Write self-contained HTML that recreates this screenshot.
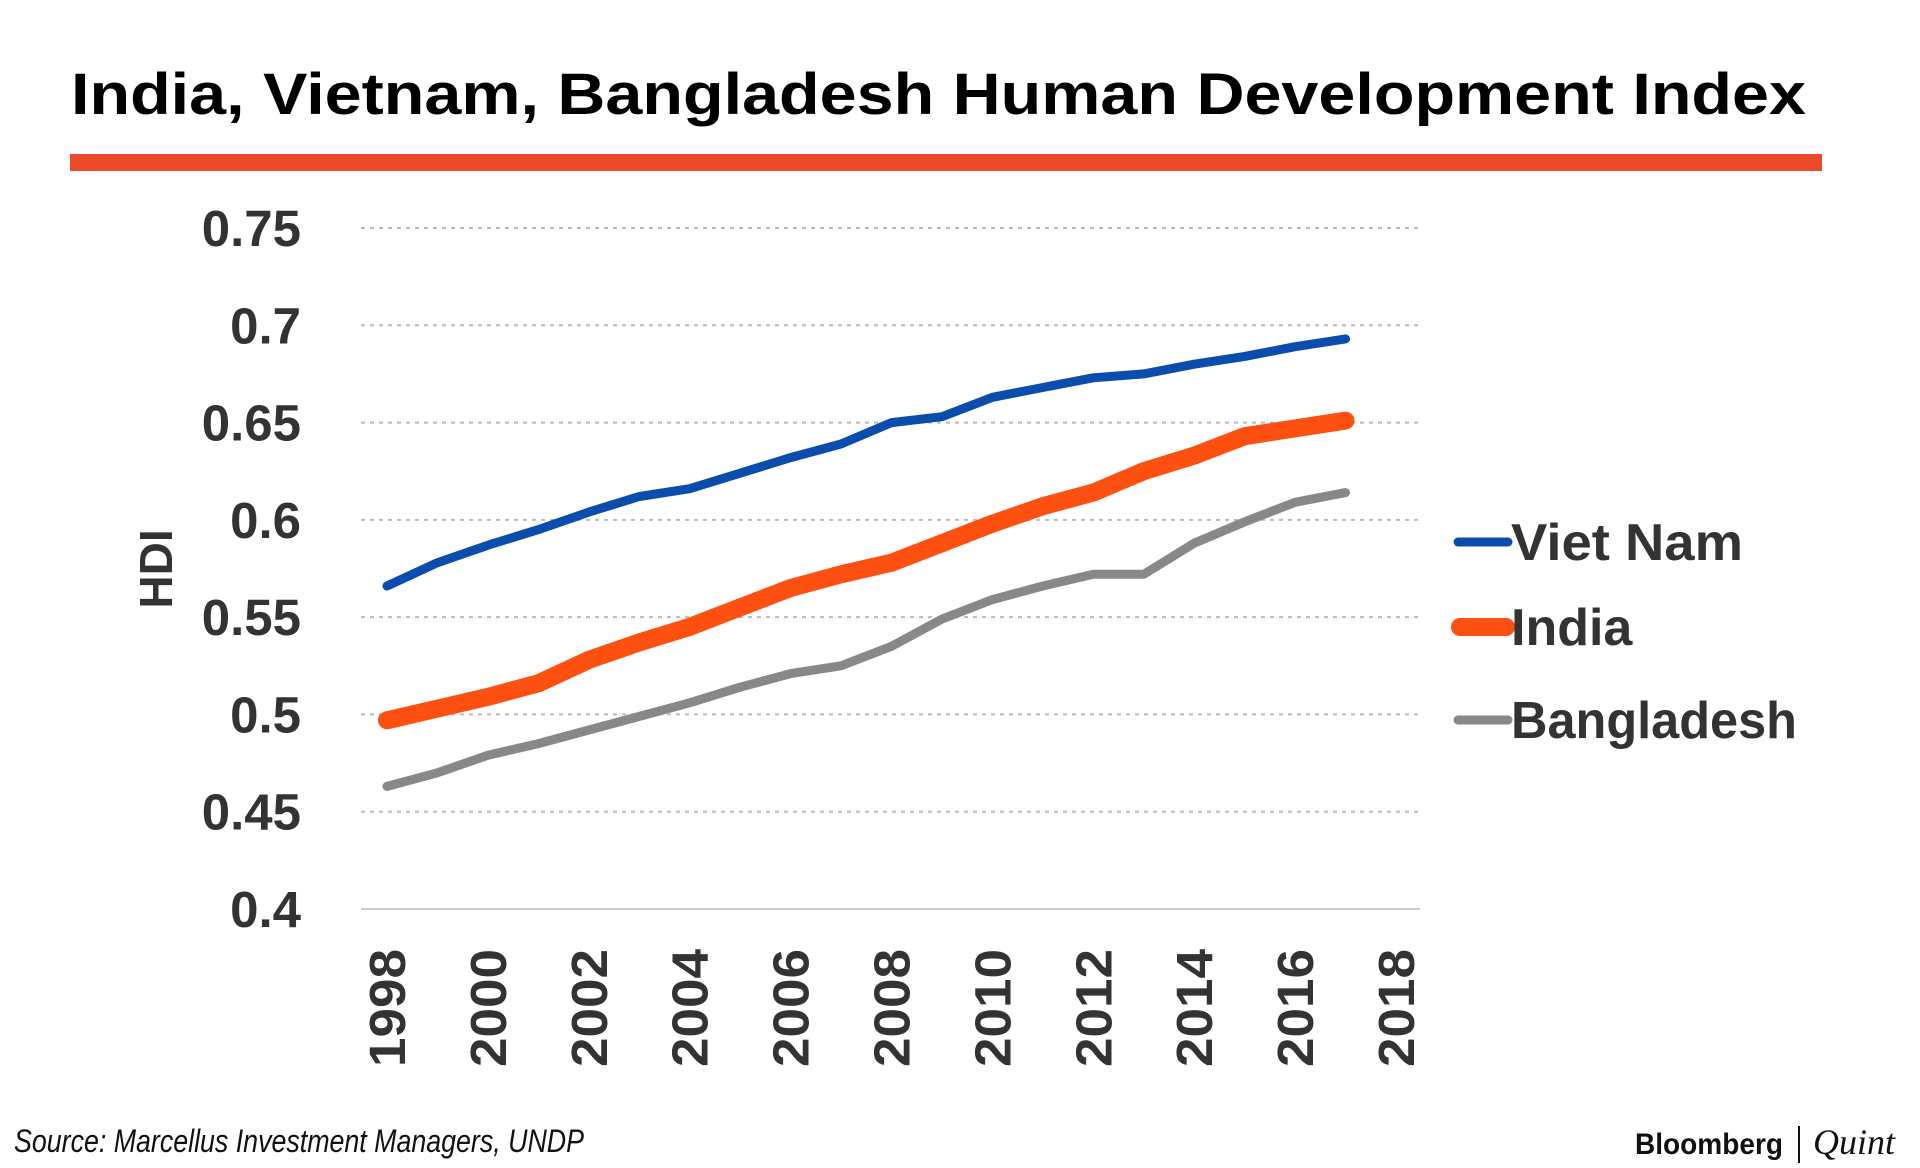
<!DOCTYPE html>
<html><head><meta charset="utf-8"><style>
body{margin:0;background:#fff;}
svg{display:block;}
</style></head><body>
<svg width="1920" height="1168" viewBox="0 0 1920 1168" xmlns="http://www.w3.org/2000/svg">
<text x="71" y="114" font-family="Liberation Sans, sans-serif" font-weight="900" font-size="58" fill="#000" textLength="1735" lengthAdjust="spacingAndGlyphs">India, Vietnam, Bangladesh Human Development Index</text>
<rect x="70" y="154" width="1752" height="17" fill="#ec4b2a"/>
<g id="grid"></g><g id="yt"></g><g id="xt"></g><g id="lines"></g>
<text transform="translate(172,569) rotate(-90)" text-anchor="middle" font-family="Liberation Sans, sans-serif" font-weight="bold" font-size="46" fill="#333">HDI</text>
<g>
<line x1="1458" y1="542" x2="1508" y2="542" stroke="#0b4dad" stroke-width="9" stroke-linecap="round"/>
<text x="1511" y="560" font-family="Liberation Sans, sans-serif" font-weight="bold" font-size="52" fill="#333" textLength="232" lengthAdjust="spacingAndGlyphs">Viet Nam</text>
<line x1="1460" y1="627" x2="1506" y2="627" stroke="#fe5010" stroke-width="18" stroke-linecap="round"/>
<text x="1511" y="645" font-family="Liberation Sans, sans-serif" font-weight="bold" font-size="52" fill="#333">India</text>
<line x1="1458" y1="720" x2="1508" y2="720" stroke="#888" stroke-width="9" stroke-linecap="round"/>
<text x="1511" y="738" font-family="Liberation Sans, sans-serif" font-weight="bold" font-size="52" fill="#333" textLength="286" lengthAdjust="spacingAndGlyphs">Bangladesh</text>
</g>
<text x="14" y="1152" font-family="Liberation Sans Narrow, Liberation Sans, sans-serif" font-style="italic" font-size="32" fill="#111" textLength="570" lengthAdjust="spacingAndGlyphs">Source: Marcellus Investment Managers, UNDP</text>
<text x="1635" y="1154" font-family="Liberation Sans, sans-serif" font-weight="bold" font-size="30" fill="#111" textLength="148" lengthAdjust="spacingAndGlyphs">Bloomberg</text>
<line x1="1799" y1="1126" x2="1799" y2="1163" stroke="#111" stroke-width="2"/>
<text x="1813" y="1154" font-family="Liberation Serif, serif" font-style="italic" font-size="36" fill="#111">Quint</text>
</svg>
<script>
const years=[1998,1999,2000,2001,2002,2003,2004,2005,2006,2007,2008,2009,2010,2011,2012,2013,2014,2015,2016,2017];
const vietNam=[0.566,0.578,0.587,0.595,0.604,0.612,0.616,0.624,0.632,0.639,0.650,0.653,0.663,0.668,0.673,0.675,0.680,0.684,0.689,0.693];
const india=[0.497,0.503,0.509,0.516,0.528,0.537,0.545,0.555,0.565,0.572,0.578,0.588,0.598,0.607,0.614,0.625,0.633,0.643,0.647,0.651];
const bangladesh=[0.463,0.470,0.479,0.485,0.492,0.499,0.506,0.514,0.521,0.525,0.535,0.549,0.559,0.566,0.572,0.572,0.588,0.599,0.609,0.614];
const yTicks=[0.4,0.45,0.5,0.55,0.6,0.65,0.7,0.75];
const yTickLabels=["0.4","0.45","0.5","0.55","0.6","0.65","0.7","0.75"];
const xTicks=[1998,2000,2002,2004,2006,2008,2010,2012,2014,2016,2018];
const NS="http://www.w3.org/2000/svg";
const X=v=>387+(v-1998)*(1396-387)/20;
const Y=v=>909-(v-0.4)*(909-228)/0.35;
function mk(t,a,p){const e=document.createElementNS(NS,t);for(const k in a)e.setAttribute(k,a[k]);p.appendChild(e);return e;}
const grid=document.getElementById('grid'),yt=document.getElementById('yt'),xt=document.getElementById('xt'),lines=document.getElementById('lines');
yTicks.forEach((v,i)=>{
 const l=mk('line',{x1:361,x2:1420,y1:Y(v),y2:Y(v),stroke:i===0?'#ccc':'#bbb','stroke-width':2,'stroke-dasharray':i===0?'':'4,5'},grid);
 
 
 const t=mk('text',{x:301,y:Y(v)+18,'text-anchor':'end','font-family':'Liberation Sans, sans-serif','font-weight':'bold','font-size':51,fill:'#333'},yt);
 t.textContent=yTickLabels[i];
 
 
});
xTicks.forEach(v=>{
 const t=mk('text',{transform:`translate(${X(v)+18},1067) rotate(-90)`,'font-family':'Liberation Sans, sans-serif','font-weight':'bold','font-size':51,fill:'#333'},xt);
 t.textContent=String(v);
 t.setAttribute('textLength','118');
 t.setAttribute('lengthAdjust','spacingAndGlyphs');
 
 
});
function series(vals,color,w,name){
 const d=vals.map((v,i)=>(i?'L':'M')+X(years[i]).toFixed(1)+','+Y(v).toFixed(1)).join(' ');
 const p=mk('path',{d:d,fill:'none',stroke:color,'stroke-width':w,'stroke-linejoin':'round','stroke-linecap':'round'},lines);
 
 
}
series(bangladesh,'#888',9,'bangladesh-line');
series(india,'#fe5010',18,'india-line');
series(vietNam,'#0b4dad',9,'viet-nam-line');
</script>
</body></html>
